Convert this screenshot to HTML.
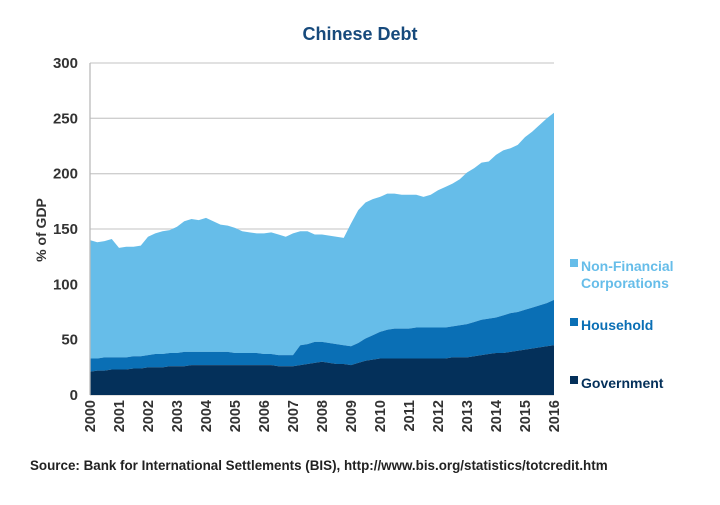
<!DOCTYPE html>
<html><head><meta charset="utf-8"><style>
body{margin:0;background:#fff;font-family:"Liberation Sans",sans-serif}
</style></head><body>
<svg width="720" height="500" xmlns="http://www.w3.org/2000/svg" font-family="Liberation Sans, sans-serif">
<text x="360" y="40" text-anchor="middle" font-size="18" font-weight="bold" fill="#174a7c">Chinese Debt</text>
<g id="grid"></g>
<g id="areas"></g>
<g id="axes"></g>
<text transform="translate(46,230) rotate(-90)" text-anchor="middle" font-size="14" font-weight="bold" fill="#333">% of GDP</text>
<g font-size="14" font-weight="bold">
<rect x="570" y="259" width="8" height="8" fill="#66bde9"/>
<text x="581" y="271" fill="#66bde9">Non-Financial</text>
<text x="581" y="288" fill="#66bde9">Corporations</text>
<rect x="570" y="318" width="8" height="8" fill="#0a6fb5"/>
<text x="581" y="330" fill="#0a6fb5">Household</text>
<rect x="570" y="376" width="8" height="8" fill="#04305a"/>
<text x="581" y="388" fill="#04305a">Government</text>
</g>
<text x="30" y="470" font-size="13.4" font-weight="bold" fill="#222">Source: Bank for International Settlements (BIS), http://www.bis.org/statistics/totcredit.htm</text>
</svg>
<script>
const yearLabels=["2000","2001","2002","2003","2004","2005","2006","2007","2008","2009","2010","2011","2012","2013","2014","2015","2016"];
const yTicks=[0,50,100,150,200,250,300];
const government=[21,22,22,23,23,23,24,24,25,25,25,26,26,26,27,27,27,27,27,27,27,27,27,27,27,27,26,26,26,27,28,29,30,29,28,28,27,29,31,32,33,33,33,33,33,33,33,33,33,33,34,34,34,35,36,37,38,38,39,40,41,42,43,44,45];
const household=[12,11,12,11,11,11,11,11,11,12,12,12,12,13,12,12,12,12,12,12,11,11,11,11,10,10,10,10,10,18,18,19,18,18,18,17,17,18,20,22,24,26,27,27,27,28,28,28,28,28,28,29,30,31,32,32,32,34,35,35,36,37,38,39,41];
const nonFinancial=[107,105,105,107,99,100,99,100,107,109,111,111,114,118,120,119,121,118,115,114,113,110,109,108,109,110,109,107,110,103,102,97,97,97,97,97,111,120,123,123,122,123,122,121,121,120,118,120,124,127,129,132,137,139,142,142,147,149,149,151,156,159,163,167,169];
const NS="http://www.w3.org/2000/svg";
const X0=90,X1=554,Y0=395,YT=63;
const xS=i=>X0+(X1-X0)*i/(government.length-1);
const yS=v=>Y0-(Y0-YT)*v/300;
function mk(t,a,p){const e=document.createElementNS(NS,t);for(const k in a)e.setAttribute(k,a[k]);p.appendChild(e);return e;}
const grid=document.getElementById('grid'),areas=document.getElementById('areas'),axes=document.getElementById('axes');
yTicks.forEach(v=>{
 const l=mk('line',{x1:X0,x2:X1,y1:yS(v),y2:yS(v),stroke:'#cfcfcf','stroke-width':1.3},grid);
 
 
 const t=mk('text',{x:78,y:yS(v)+5,'text-anchor':'end','font-size':15,'font-weight':'bold',fill:'#333'},axes);
 t.textContent=v;
 
 
});
const n=government.length;
const c1=government.slice(),c2=government.map((g,i)=>g+household[i]),c3=c2.map((h,i)=>h+nonFinancial[i]);
function area(top,bot,fill,name){
 let d='M'+xS(0)+','+yS(top[0]);
 for(let i=1;i<n;i++)d+='L'+xS(i)+','+yS(top[i]);
 for(let i=n-1;i>=0;i--)d+='L'+xS(i)+','+yS(bot?bot[i]:0);
 const p=mk('path',{d:d+'Z',fill:fill},areas);
 
 
}
area(c3,c2,'#66bde9','area-non-financial-corporations');
area(c2,c1,'#0a6fb5','area-household');
area(c1,null,'#04305a','area-government');
const ax=mk('line',{x1:X0,x2:X0,y1:YT,y2:Y0,stroke:'#bbb','stroke-width':1.3},axes);


yearLabels.forEach((y,k)=>{
 const x=xS(k*4)+5;
 const t=mk('text',{transform:'translate('+x+',400) rotate(-90)','text-anchor':'end','font-size':14.5,'font-weight':'bold',fill:'#333'},axes);
 t.textContent=y;
 
 
});
</script>
</body></html>
